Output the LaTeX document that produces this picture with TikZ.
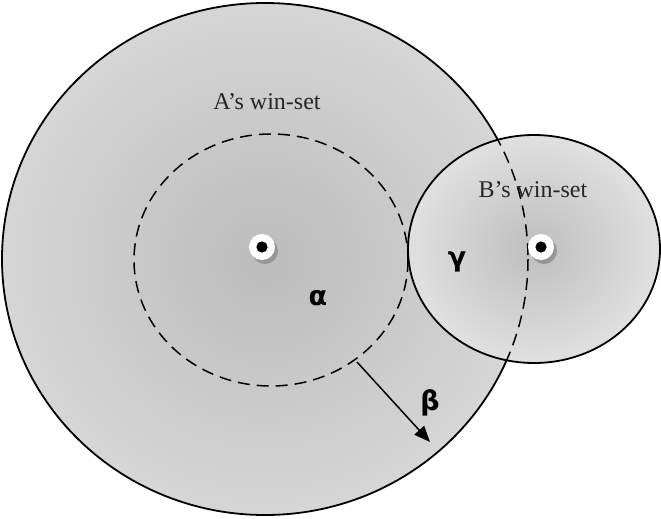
\documentclass[tikz,border=0pt]{standalone}
\usepackage{fontspec}
\setmainfont{Liberation Serif}
\newfontfamily\gk{DejaVu Sans}
\usetikzlibrary{arrows.meta,calc}
\definecolor{bigin}{RGB}{188,188,188}
\definecolor{bigout}{RGB}{214,214,214}
\definecolor{elin}{RGB}{190,190,190}
\definecolor{elout}{RGB}{224,224,224}
\definecolor{shadowc}{RGB}{150,150,150}
\tikzset{
  outline/.style={draw=black, line width=1.8pt},
  dashline/.style={draw=black, line width=1.5pt, dash pattern=on 12pt off 7pt},
  label/.style={font=\fontsize{24}{28}\selectfont, text=black!85},
  greek/.style={font=\gk\bfseries\fontsize{27}{30}\selectfont},
  dotshadow/.style={fill=shadowc, draw=none},
  dotwhite/.style={fill=white, draw=none},
  dotblack/.style={fill=black, draw=none},
}
\begin{document}
\begin{tikzpicture}[x=1pt,y=-1pt]
\useasboundingbox (0,0) rectangle (661,519);
% A's big win-set region
\path[outline, inner color=bigin, outer color=bigout] (265,259) ellipse [x radius=263, y radius=256];
% inner dashed circle
\path[dashline] (271,260) ellipse [x radius=137, y radius=126];
% point A
\coordinate (A) at (262,247);
\fill[dotshadow] ($(A)+(3,4)$) circle (13);
\fill[dotwhite] (A) circle (13);
\fill[dotblack] (A) circle (5.6);
% B's win-set
\path[outline, inner color=elin, outer color=elout] (534,249) ellipse [x radius=126, y radius=114];
\begin{scope}
  \clip (534,249) ellipse [x radius=126, y radius=114];
  \path[dashline] (265,259) ellipse [x radius=263, y radius=256];
\end{scope}
% point B
\coordinate (B) at (541,247);
\fill[dotshadow] ($(B)+(3,4)$) circle (13);
\fill[dotwhite] (B) circle (13);
\fill[dotblack] (B) circle (5.6);
% labels
\node[label] (la) at (267,102) {A’s win-set};
\node[label] (lb) at (533,190) {B’s win-set};
\node[greek] (alpha) at (318,298) {α};
\node[greek] (gamma) at (457,262) {γ};
\node[greek] (beta) at (430,403) {β};
% arrow beta
\coordinate (bs) at (357,362);
\coordinate (be) at (430,442);
\draw[line width=1.5pt, -{Triangle[length=16pt,width=13pt]}] (bs) -- (be);
\end{tikzpicture}
\end{document}
